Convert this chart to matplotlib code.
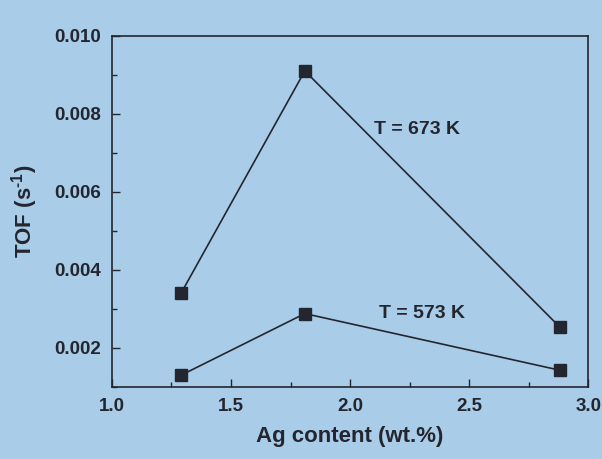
import matplotlib
matplotlib.use('Agg')
import matplotlib.pyplot as plt
from matplotlib.ticker import MultipleLocator, FormatStrFormatter

ag_content = [1.29, 1.81, 2.88]
tof_673 = [0.0034, 0.0091, 0.00254]
tof_573 = [0.0013, 0.00288, 0.00143]
label_673 = 'T = 673 K'
label_573 = 'T = 573 K'

bg = '#a9cde8'
ink = '#24262f'

plt.rcParams['font.family'] = ['Liberation Sans', 'DejaVu Sans']
plt.rcParams['font.weight'] = 'bold'
plt.rcParams['axes.labelweight'] = 'bold'
plt.rcParams['mathtext.fontset'] = 'custom'
plt.rcParams['mathtext.bf'] = 'Liberation Sans:bold'
plt.rcParams['mathtext.rm'] = 'Liberation Sans:bold'
plt.rcParams['mathtext.default'] = 'bf'

fig = plt.figure(figsize=(6.02, 4.59), dpi=100, facecolor=bg)
ax = fig.add_axes([0.186, 0.157, 0.791, 0.765], facecolor=bg)

ax.plot(ag_content, tof_673, marker='s', color=ink, lw=1.2, ms=9)
ax.plot(ag_content, tof_573, marker='s', color=ink, lw=1.2, ms=9)

ax.text(2.1, 0.0076, label_673, fontsize=14, color=ink, va='center')
ax.text(2.12, 0.00287, label_573, fontsize=14, color=ink, va='center')

ax.set_xlim(1.0, 3.0)
ax.set_ylim(0.001, 0.010)
ax.xaxis.set_major_locator(MultipleLocator(0.5))
ax.xaxis.set_minor_locator(MultipleLocator(0.25))
ax.yaxis.set_major_locator(MultipleLocator(0.002))
ax.yaxis.set_minor_locator(MultipleLocator(0.001))
ax.xaxis.set_major_formatter(FormatStrFormatter('%.1f'))
ax.yaxis.set_major_formatter(FormatStrFormatter('%.3f'))
ax.tick_params(which='both', direction='in', colors=ink, labelsize=13.5, width=1.0)
ax.tick_params(which='major', length=6, pad=8)
ax.tick_params(which='minor', length=3.5)
for s in ax.spines.values():
    s.set_color(ink)
    s.set_linewidth(1.2)

ax.set_xlabel('Ag content (wt.%)', fontsize=16, color=ink, labelpad=8)
ax.set_ylabel('TOF (s$^{\\text{-1}}$)', fontsize=16, color=ink, labelpad=10)

fig.savefig('out.png', dpi=100, facecolor=bg)
